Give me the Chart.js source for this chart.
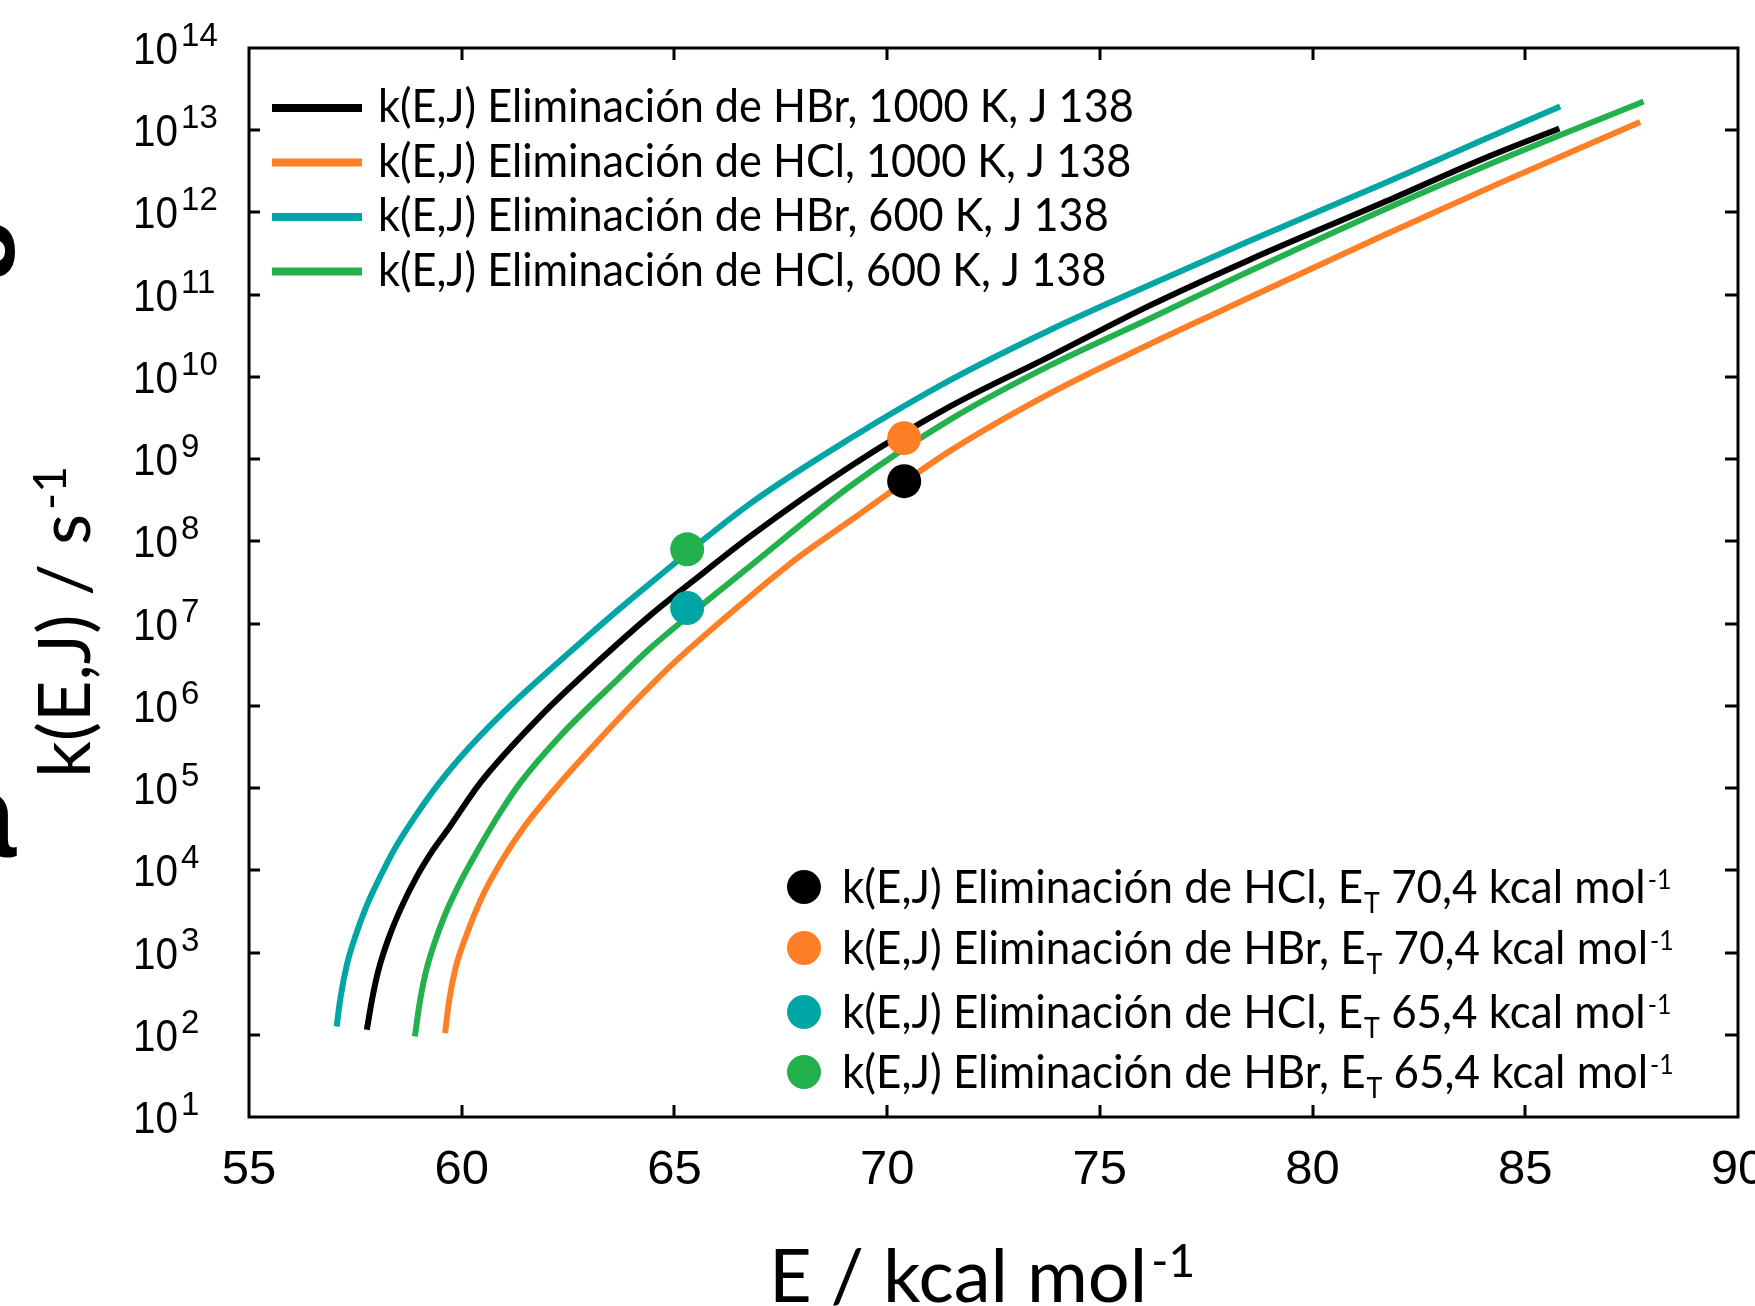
<!DOCTYPE html>
<html>
<head>
<meta charset="utf-8">
<script src="https://cdn.jsdelivr.net/npm/chart.js@4.4.0/dist/chart.umd.min.js"></script>
<style>
html,body{margin:0;padding:0;background:#fff;overflow:hidden}
#wrap{width:1755px;height:1306px;position:relative}
canvas{display:block}
</style>
</head>
<body>
<div id="wrap"><canvas id="c" width="1755" height="1306"></canvas></div>
<script>
// ---------- data ----------
const seriesLabels = [
  'k(E,J) Eliminación de HBr, 1000 K, J 138',
  'k(E,J) Eliminación de HCl, 1000 K, J 138',
  'k(E,J) Eliminación de HBr, 600 K, J 138',
  'k(E,J) Eliminación de HCl, 600 K, J 138'
];
const seriesColors = ['#000000', '#FF7F27', '#00A5A5', '#22B14C'];

const eHBr1000 = [57.77,57.9,58.05,58.3,58.6,58.94,59.33,59.72,60.43,61.84,63.25,64.43,65.44,66.78,69.13,71.48,73.83,76.18,78.5,81.66,84.0,85.8];
const kHBr1000 = [1.15e2,2.82e2,6.31e2,1.58e3,3.72e3,8.32e3,1.78e4,3.39e4,1.15e5,7.41e5,3.63e6,1.26e7,3.31e7,1.15e8,8.13e8,4.37e9,1.78e10,7.41e10,2.63e11,1.32e12,4.47e12,1.05e13];

const eHCl1000 = [59.61,59.7,59.85,60.1,60.5,60.98,61.5,62.31,62.86,63.88,64.43,64.98,66.78,67.95,69.13,71.48,73.83,76.18,77.75,81.66,84.41,87.70];
const kHCl1000 = [1.05e2,2.51e2,6.31e2,1.58e3,5.01e3,1.41e4,3.55e4,1.15e5,2.40e5,8.91e5,1.74e6,3.31e6,2.14e7,6.61e7,1.78e8,1.26e9,6.31e9,2.51e10,6.03e10,5.25e11,2.29e12,1.26e13];

const eHBr600 = [57.06,57.15,57.3,57.5,57.75,58.16,58.47,58.94,59.41,59.96,60.98,62.47,63.64,64.43,66.78,69.13,71.48,73.83,76.18,78.5,81.66,84.0,85.82];
const kHBr600 = [1.26e2,2.82e2,7.08e2,1.58e3,3.55e3,1.0e4,2.0e4,4.79e4,1.05e5,2.34e5,8.32e5,4.17e6,1.41e7,3.09e7,2.88e8,1.78e9,9.12e9,3.72e10,1.32e11,4.47e11,2.24e12,7.59e12,1.95e13];

const eHCl600 = [58.90,59.0,59.15,59.35,59.6,59.96,60.35,60.90,61.37,62.31,63.72,64.43,65.3,66.78,69.13,71.48,73.83,76.18,78.5,82.06,84.41,87.78];
const kHCl600 = [9.55e1,2.24e2,5.62e2,1.26e3,2.82e3,7.08e3,1.66e4,5.01e4,1.15e5,4.27e5,2.24e6,5.01e6,1.20e7,5.01e7,4.68e8,3.02e9,1.38e10,5.13e10,1.91e11,1.32e12,4.37e12,2.24e13];

const markerE = [70.4, 70.4, 65.3, 65.3];
const markerK = [5.4e8, 1.8e9, 1.55e7, 8.0e7];
const markerColors = ['#000000', '#FF7F27', '#00A5A5', '#22B14C'];
const markerLabelHead = [
  'k(E,J) Eliminación de HCl, E',
  'k(E,J) Eliminación de HBr, E',
  'k(E,J) Eliminación de HCl, E',
  'k(E,J) Eliminación de HBr, E'
];
const markerLabelSub = ['T', 'T', 'T', 'T'];
const markerLabelTail = [' 70,4 kcal mol', ' 70,4 kcal mol', ' 65,4 kcal mol', ' 65,4 kcal mol'];
const markerLabelSup = ['-1', '-1', '-1', '-1'];

const xTicks = [55, 60, 65, 70, 75, 80, 85, 90];
const yExponents = [1, 2, 3, 4, 5, 6, 7, 8, 9, 10, 11, 12, 13, 14];
const xTitle = 'E / kcal mol';
const xTitleSup = '-1';
const yTitle = 'k(E,J) / s';
const yTitleSup = '-1';

// ---------- build ----------
const toPts = (es, ks) => es.map((e, i) => ({x: e, y: ks[i]}));
const curves = [[eHBr1000, kHBr1000], [eHCl1000, kHCl1000], [eHBr600, kHBr600], [eHCl600, kHCl600]];
const drawOrder = [4, 3, 2, 1]; // lower = drawn on top
const datasets = curves.map((c, i) => ({
  label: seriesLabels[i],
  data: toPts(c[0], c[1]),
  showLine: true,
  borderColor: seriesColors[i],
  backgroundColor: seriesColors[i],
  borderWidth: 6,
  pointRadius: 0,
  cubicInterpolationMode: 'monotone',
  order: drawOrder[i]
}));
markerE.forEach((e, i) => {
  datasets.push({
    label: markerLabelHead[i] + markerLabelSub[i] + markerLabelTail[i] + markerLabelSup[i],
    data: [{x: e, y: markerK[i]}],
    showLine: false,
    pointRadius: 17,
    pointBorderWidth: 0,
    pointBackgroundColor: markerColors[i],
    backgroundColor: markerColors[i],
    order: 0
  });
});

const LATO = 'Lato, "Open Sans", sans-serif';
const ARIAL = '"Liberation Sans", Arial, sans-serif';

// draw text horizontally condensed by sx; returns advanced width
function txt(ctx, s, x, y, font, sx) {
  ctx.save();
  ctx.font = font;
  const w = ctx.measureText(s).width * sx;
  ctx.translate(x, y);
  ctx.scale(sx, 1);
  ctx.fillText(s, 0, 0);
  ctx.restore();
  return w;
}

const decor = {
  id: 'decor',
  afterDraw(chart) {
    const ctx = chart.ctx;
    const a = chart.chartArea;
    const xs = chart.scales.x, ys = chart.scales.y;
    ctx.save();
    ctx.fillStyle = '#000';
    ctx.strokeStyle = '#000';
    ctx.textAlign = 'left';
    ctx.textBaseline = 'alphabetic';

    // frame
    ctx.lineWidth = 3;
    ctx.strokeRect(a.left, a.top, a.right - a.left, a.bottom - a.top);

    // ticks
    ctx.beginPath();
    xTicks.forEach(v => {
      if (v === xs.min || v === xs.max) return;
      const x = Math.round(xs.getPixelForValue(v));
      ctx.moveTo(x, a.bottom); ctx.lineTo(x, a.bottom - 12);
      ctx.moveTo(x, a.top); ctx.lineTo(x, a.top + 12);
    });
    yExponents.forEach(p => {
      const v = Math.pow(10, p);
      if (v <= ys.min || v >= ys.max) return;
      const y = Math.round(ys.getPixelForValue(v));
      ctx.moveTo(a.left, y); ctx.lineTo(a.left + 11, y);
      ctx.moveTo(a.right, y); ctx.lineTo(a.right - 13, y);
    });
    ctx.stroke();

    // x tick labels
    ctx.font = '49px ' + ARIAL;
    ctx.textAlign = 'center';
    xTicks.forEach(v => {
      ctx.fillText(String(v), xs.getPixelForValue(v), 1184);
    });
    ctx.textAlign = 'left';

    // y tick labels (10^n)
    yExponents.forEach(p => {
      const y = ys.getPixelForValue(Math.pow(10, p));
      const w = txt(ctx, '10', 133, y + 16, '44px ' + ARIAL, 0.92);
      ctx.font = '33px ' + ARIAL;
      ctx.fillText(String(p), 133 + w + 3, y - 2);
    });

    // x title
    ctx.font = '74px ' + LATO;
    const wMain = ctx.measureText(xTitle).width;
    ctx.font = '46px ' + LATO;
    const wSup = ctx.measureText(xTitleSup).width;
    const total = wMain + 4 + wSup;
    const x0 = 982 - total / 2;
    ctx.font = '74px ' + LATO;
    ctx.fillText(xTitle, x0, 1302);
    ctx.font = '46px ' + LATO;
    ctx.fillText(xTitleSup, x0 + wMain + 4, 1277);

    // y title (rotated)
    ctx.save();
    ctx.translate(90, 622);
    ctx.rotate(-Math.PI / 2);
    ctx.font = '72px ' + LATO;
    const yMain = ctx.measureText(yTitle).width;
    ctx.font = '46px ' + LATO;
    const ySup = ctx.measureText(yTitleSup).width;
    const yTot = yMain + 4 + ySup;
    ctx.font = '72px ' + LATO;
    ctx.fillText(yTitle, -yTot / 2, 0);
    ctx.font = '46px ' + LATO;
    ctx.fillText(yTitleSup, -yTot / 2 + yMain + 4, -24);
    ctx.restore();

    // legend 1 (lines)
    seriesLabels.forEach((lab, i) => {
      const yl = 108 + i * 54.5;
      ctx.strokeStyle = seriesColors[i];
      ctx.lineWidth = 8;
      ctx.beginPath();
      ctx.moveTo(272, yl); ctx.lineTo(362, yl);
      ctx.stroke();
      ctx.fillStyle = '#000';
      txt(ctx, lab, 378, yl + 14, '46px ' + LATO, 0.94);
    });

    // legend 2 (markers)
    const rowY = [887, 948, 1012, 1072];
    const sx = 0.955;
    markerLabelHead.forEach((head, i) => {
      const ym = rowY[i];
      ctx.fillStyle = markerColors[i];
      ctx.beginPath();
      ctx.arc(804, ym, 17, 0, Math.PI * 2);
      ctx.fill();
      ctx.fillStyle = '#000';
      let x = 842;
      const base = ym + 16;
      x += txt(ctx, head, x, base, '46px ' + LATO, sx) + 1;
      x += txt(ctx, markerLabelSub[i], x, base + 10, '28px ' + LATO, sx);
      x += txt(ctx, markerLabelTail[i], x, base, '46px ' + LATO, sx) + 2;
      txt(ctx, markerLabelSup[i], x, ym + 2, '26px ' + LATO, sx);
    });

    // cropped fragments at the left edge of the original figure
    ctx.fillStyle = '#000';
    ctx.save();
    ctx.translate(-8, 250);
    ctx.rotate(-Math.PI / 2);
    ctx.font = 'bold 110px ' + ARIAL;
    ctx.textAlign = 'center';
    ctx.fillText('g', 0, 0);
    ctx.restore();
    ctx.font = 'bold 120px ' + ARIAL;
    ctx.textAlign = 'right';
    ctx.fillText('a', 16, 857);

    ctx.restore();
  }
};

function build() {
  new Chart(document.getElementById('c'), {
    type: 'scatter',
    data: {datasets},
    options: {
      responsive: false,
      animation: false,
      devicePixelRatio: 1,
      layout: {padding: {left: 249, top: 48, right: 17, bottom: 189}},
      plugins: {legend: {display: false}, tooltip: {enabled: false}},
      scales: {
        x: {
          type: 'linear', min: 55, max: 90,
          ticks: {display: false}, grid: {display: false}, border: {display: false},
          afterFit(s) { s.height = 0; }
        },
        y: {
          type: 'logarithmic', min: 10, max: 1e14,
          ticks: {display: false}, grid: {display: false}, border: {display: false},
          afterFit(s) { s.width = 0; }
        }
      }
    },
    plugins: [decor]
  });
}
if (document.fonts && document.fonts.load) {
  Promise.all([
    document.fonts.load('46px Lato'),
    document.fonts.load('44px "Liberation Sans"')
  ]).then(build, build);
} else build();
</script>
</body>
</html>
